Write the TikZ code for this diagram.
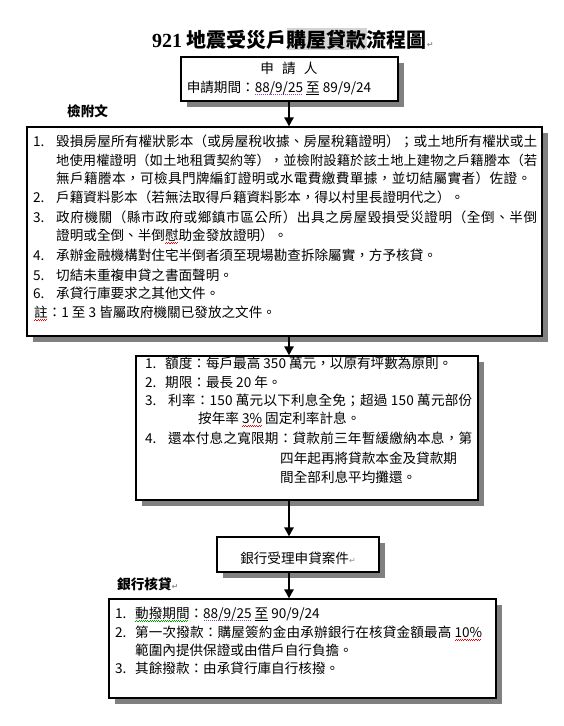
\documentclass[tikz,border=0pt]{standalone}
\usepackage{fontspec}
\setmainfont{Noto Sans CJK TC}
\newfontfamily\titlelatin{Liberation Serif}
\newfontfamily\dejavu{DejaVu Sans}
\usetikzlibrary{shadows,arrows.meta}

\definecolor{shadowgray}{HTML}{808080}
\definecolor{hlgray}{HTML}{D4D4D4}
\definecolor{dotpurple}{HTML}{8040C0}
\definecolor{wavegreen}{HTML}{00A000}
\definecolor{pmgray}{HTML}{909090}

\newsavebox\ulbox
\newcommand\markunder[2]{\sbox\ulbox{#2}\leavevmode\rlap{\hbox to\wd\ulbox{\leaders\hbox{#1}\hfil}}\usebox\ulbox}
\newcommand\wavepiece[1]{\textcolor{#1}{\rule[-3.6pt]{1.1pt}{0.7pt}\rule[-2.8pt]{1.1pt}{0.7pt}}}
\newcommand\redwave[1]{\markunder{\wavepiece{red}}{#1}}
\newcommand\greenwave[1]{\markunder{\wavepiece{wavegreen}}{#1}}
\newcommand\dotline[1]{\markunder{\hbox to 2pt{\hss\textcolor{dotpurple}{\rule[-2.6pt]{0.9pt}{0.9pt}}\hss}}{#1}}
\newcommand\solidline[1]{\markunder{\rule[-2.6pt]{1pt}{0.6pt}}{#1}}
\makeatletter
\def\spreadtext#1{\sp@first#1\@nil}
\def\sp@first#1{#1\sp@rest}
\def\sp@rest#1{\ifx#1\@nil\else\hskip\z@ plus 1fil#1\expandafter\sp@rest\fi}
\makeatother
\newcommand\pmark{{\dejavu\fontsize{8}{8}\selectfont\textcolor{pmgray}{↵}}}

\tikzset{
  box/.style={draw=black, line width=1.2pt, fill=white, inner sep=0pt,
    drop shadow={shadow xshift=6pt, shadow yshift=-6pt, fill=shadowgray, opacity=1}},
  txt/.style={anchor=base west, inner sep=0pt, font=\fontsize{13.6}{16}\selectfont},
  lbl/.style={anchor=base west, inner sep=0pt, font=\fontsize{13.6}{16}\selectfont\bfseries},
  flow/.style={line width=2.6pt, -{Triangle[width=9pt,length=9pt]}},
}

\begin{document}
\begin{tikzpicture}[x=1pt,y=-1pt]
\fill[white] (0,0) rectangle (564,726);
\useasboundingbox (0,0) rectangle (564,726);

% title
\node[anchor=base west, inner sep=0pt] (title) at (152,47)
  {\fontsize{20}{24}\selectfont\bfseries{\titlelatin 921} 地震受災戶{\setlength\fboxsep{0pt}\colorbox{hlgray}{\rule[-3pt]{0pt}{22pt}購屋貸款}}流程圖\pmark};

% boxes
\node[box, minimum width=217pt, minimum height=44pt] (b1) at (289.5,79) {};
\node[box, minimum width=515pt, minimum height=209pt] (b2) at (284.5,231.5) {};
\node[box, minimum width=342pt, minimum height=144pt] (b3) at (307,428) {};
\node[box, minimum width=162pt, minimum height=35pt] (b4) at (298,554.5) {};
\node[box, minimum width=387pt, minimum height=99pt] (b5) at (302.5,648.5) {};

% connectors
\coordinate (ax) at (289,0);
\draw[flow] (b1.south -| ax) -- (b2.north -| ax);
\draw[flow] (b2.south -| ax) -- (b3.north -| ax);
\draw[flow] (b3.south -| ax) -- (b4.north -| ax);
\draw[flow] (b4.south -| ax) -- (b5.north -| ax);

% box 1
\node[txt, anchor=base] (b1a) at (289,73) {申\hspace{0.6em}請\hspace{0.6em}人};
\node[txt, anchor=base] (b1b) at (279,92) {申請期間：\dotline{88/9/25}\ \solidline{至}\ 89/9/24};

% labels
\node[lbl] (lab1) at (67,116) {檢附文};
\node[lbl] (lab2) at (117,589) {銀行核貸\pmark};

% box 2
\node[txt] (n21) at (33,146.7) {1.};
\node[txt] (l21) at (56,146.7) {\hbox to 481pt{\spreadtext{毀損房屋所有權狀影本（或房屋稅收據、房屋稅籍證明）；或土地所有權狀或土}}};
\node[txt, font=\fontsize{13.3}{16}\selectfont] (l22) at (56,165) {\hbox to 481pt{\spreadtext{地使用權證明（如土地租賃契約等），並檢附設籍於該土地上建物之戶籍謄本（若}}};
\node[txt] (l23) at (56,183) {\hbox to 475pt{\spreadtext{無戶籍謄本，可檢具門牌編釘證明或水電費繳費單據，並切結屬實者）佐證。}}};
\node[txt] (n24) at (33,202) {2.};
\node[txt] (l24) at (56,202) {戶籍資料影本（若無法取得戶籍資料影本，得以村里長證明代之）。};
\node[txt] (n25) at (33,222) {3.};
\node[txt] (l25) at (56,222) {\hbox to 481pt{\spreadtext{政府機關（縣市政府或鄉鎮市區公所）出具之房屋毀損受災證明（全倒、半倒}}};
\node[txt] (l26) at (56,240) {證明或全倒、半倒\redwave{慰}助金發放證明）。};
\node[txt] (n27) at (33,260) {4.};
\node[txt] (l27) at (56,260) {承辦金融機構對住宅半倒者須至現場勘查拆除屬實，方予核貸。};
\node[txt] (n28) at (33,280) {5.};
\node[txt] (l28) at (56,280) {切結未重複申貸之書面聲明。};
\node[txt] (n29) at (33,298) {6.};
\node[txt] (l29) at (56,298) {承貸行庫要求之其他文件。};
\node[txt] (l2a) at (34,317) {\redwave{註}：1 至 3 皆屬政府機關已發放之文件。};

% box 3
\node[txt] (n31) at (145,368) {1.};
\node[txt] (l31) at (165,368) {額度：每戶最高 350 萬元，以原有坪數為原則。};
\node[txt] (n32) at (145,387) {2.};
\node[txt] (l32) at (165,387) {期限：最長 20 年。};
\node[txt] (n33) at (145,405) {3.};
\node[txt] (l33) at (168,405) {\hbox to 304pt{\spreadtext{利率：150\ 萬元以下利息全免；超過\ 150\ 萬元部份}}};
\node[txt] (l34) at (198,423) {按年率 \redwave{3\%} 固定利率計息。};
\node[txt] (n35) at (145,443) {4.};
\node[txt] (l35) at (168,443) {\hbox to 304pt{\spreadtext{還本付息之寬限期：貸款前三年暫緩繳納本息，第}}};
\node[txt] (l36) at (280,463) {四年起再將貸款本金及貸款期};
\node[txt] (l37) at (280,482) {間全部利息平均攤還。};

% box 4
\node[txt, anchor=base] (b4t) at (298,563) {銀行受理申貸案件\pmark};

% box 5
\node[txt] (n51) at (115,618) {1.};
\node[txt] (l51) at (135,618) {\greenwave{動撥期間}：\dotline{88/9/25}\ \solidline{至}\ 90/9/24};
\node[txt] (n52) at (115,637) {2.};
\node[txt] (l52) at (135,637) {\hbox to 347pt{\spreadtext{第一次撥款：購屋簽約金由承辦銀行在核貸金額最高}\hskip 3pt plus 1fil\redwave{10\%}}};
\node[txt] (l53) at (135,655) {範圍內提供保證或由借戶自行負擔。};
\node[txt] (n54) at (115,673) {3.};
\node[txt] (l54) at (135,673) {其餘撥款：由承貸行庫自行核撥。};
\end{tikzpicture}
\end{document}
